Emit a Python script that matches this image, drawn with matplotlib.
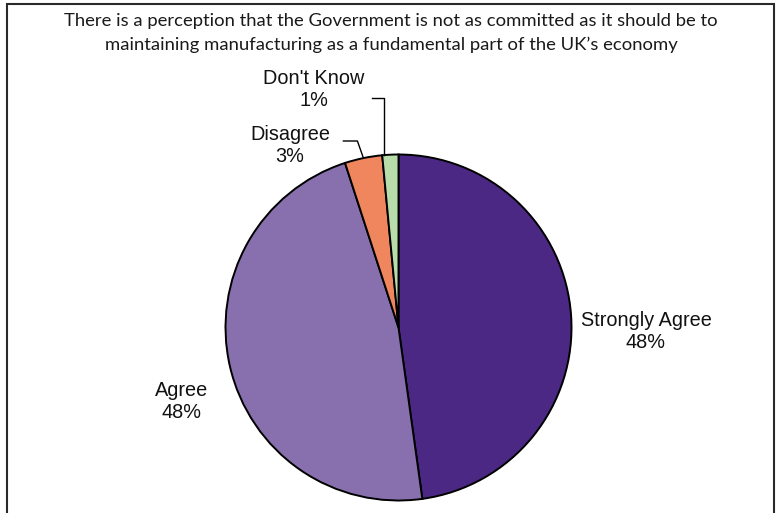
import numpy as np
import matplotlib
matplotlib.use("Agg")
import matplotlib.pyplot as plt
from matplotlib.patches import Rectangle

# slice sizes as drawn (percent of the circle), labels as printed
categories = ["Strongly Agree", "Agree", "Disagree", "Don't Know"]
values = [47.8, 47.2, 3.5, 1.5]
pct_labels = ["48%", "48%", "3%", "1%"]
colors = ["#4b2884", "#8870ae", "#f0865e", "#b9dcab"]

title = ("There is a perception that the Government is not as committed as it should be to\n"
         "maintaining manufacturing as a fundamental part of the UK\u2019s economy")


def main():
    W, H = 778, 513
    fig = plt.figure(figsize=(W / 100, H / 100), dpi=100)
    ax = fig.add_axes([0, 0, 1, 1])

    cx, cy, r = 398.5, H - 327.5, 173
    wedges, _ = ax.pie(values, colors=colors, startangle=90, counterclock=False,
                       center=(cx, cy), radius=r, frame=True,
                       wedgeprops=dict(edgecolor="black", linewidth=1.4))
    ax.set_xlim(0, W)
    ax.set_ylim(0, H)
    ax.axis("off")

    lab_font = dict(family=["Liberation Sans", "DejaVu Sans"], fontsize=14.3,
                    color="#111111", ha="center", va="center", linespacing=1.2)
    label_pos = {
        "Strongly Agree": (646, 332),
        "Agree": (182, 401),
        "Disagree": (290, 145),
        "Don't Know": (314, 90),
    }
    for cat, pct in zip(categories, pct_labels):
        x, y = label_pos[cat]
        ax.text(x, H - y, f"{cat}\n{pct}", **lab_font)

    # leader lines for the small slices, starting on the slice rim
    def rim(w, frac):
        ang = np.deg2rad(w.theta1 + (w.theta2 - w.theta1) * frac)
        return cx + r * np.cos(ang), cy + r * np.sin(ang)

    x0, y0 = rim(wedges[3], 0.1)
    if x0 > cx - 8:
        x0, y0 = rim(wedges[3], 0.9)
    ax.plot([x0, x0, x0 - 12], [y0, H - 98, H - 98], color="black", lw=1.0)
    x1, y1 = rim(wedges[2], 0.5)
    ax.plot([x1, x1 - 6, x1 - 20], [y1, H - 141, H - 141], color="black", lw=1.0)

    fig.text(391 / W, 1 - 33 / H, title, ha="center", va="center",
             family=["Lato", "DejaVu Sans"], fontsize=13.3,
             linespacing=1.5, color="#1a1a1a")

    # frame around the chart (open at the bottom edge)
    fig.patches.append(Rectangle((7 / W, -0.05), (774 - 7) / W, 1.05 - 4 / H,
                                 transform=fig.transFigure, fill=False,
                                 edgecolor="#2a2a2a", linewidth=1.5))

    fig.savefig("out.png", dpi=100)


if __name__ == "__main__":
    main()
